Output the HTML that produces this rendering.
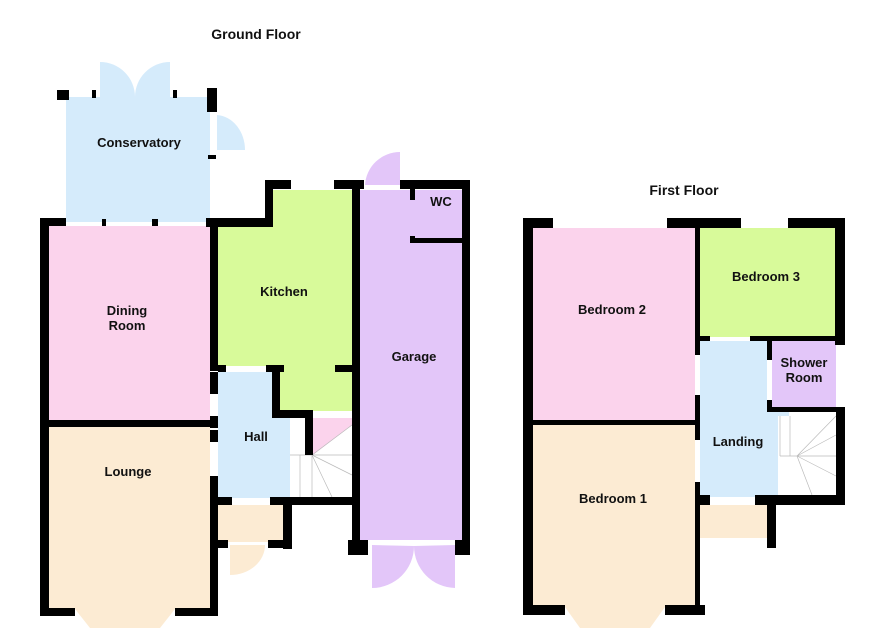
<!DOCTYPE html>
<html><head><meta charset="utf-8"><style>
body{margin:0;background:#fff}
svg{display:block}
text{font-family:"Liberation Sans",sans-serif;font-weight:bold;fill:#111}
</style></head><body>
<svg width="886" height="644" viewBox="0 0 886 644">
<g stroke="none">
<rect x="66" y="97" width="144" height="125" fill="#d5ebfb"/>
<path d="M100 97 L100 62 A35 35 0 0 1 135 97Z" fill="#d5ebfb"/>
<path d="M170 97 L170 62 A35 35 0 0 0 135 97Z" fill="#d5ebfb"/>
<path d="M217 115 A30 35 0 0 1 245 150 L217 150Z" fill="#d5ebfb"/>
<rect x="48" y="226" width="162" height="195" fill="#fbd3ec"/>
<rect x="48" y="427" width="162" height="182" fill="#fcebd3"/>
<path d="M75 609 L90 628 L160 628 L175 609Z" fill="#fcebd3"/>
<rect x="273" y="190" width="79" height="40" fill="#d8fa9a"/>
<rect x="218" y="226" width="134" height="140" fill="#d8fa9a"/>
<rect x="280" y="366" width="72" height="45" fill="#d8fa9a"/>
<rect x="360" y="190" width="102" height="350" fill="#e3c6f9"/>
<path d="M365 185 A35 35 0 0 1 400 152 L400 185Z" fill="#e3c6f9"/>
<path d="M372 545 L372 588 A42 42 0 0 0 414 546Z" fill="#e3c6f9"/>
<path d="M455 545 L455 588 A42 42 0 0 1 414 546Z" fill="#e3c6f9"/>
<rect x="218" y="372" width="54" height="126" fill="#d5ebfb"/>
<rect x="218" y="418" width="92" height="80" fill="#d5ebfb"/>
<rect x="290" y="418" width="62" height="80" fill="#fff"/>
<path d="M313 418 L352 418 L352 425 L313 455Z" fill="#fbd3ec"/>
<rect x="218" y="505" width="65" height="37" fill="#fcebd3"/>
<path d="M230 545 L265 545 A35 30 0 0 1 230 575Z" fill="#fcebd3"/>
</g>
<g stroke="#bbb" stroke-width="0.7" fill="none">
<path d="M312 455 L352 425 M312 455 L352 455 M312 455 L352 475 M312 455 L332 497 M290 455 L312 455 M300 455 L300 497 M312 455 L312 497"/>
</g>
<g fill="#000">
<rect x="40" y="218" width="9" height="397"/>
<rect x="40" y="218" width="26" height="8"/>
<rect x="57" y="90" width="12" height="10"/>
<rect x="92" y="90" width="4" height="8"/>
<rect x="173" y="90" width="4" height="8"/>
<rect x="207" y="88" width="10" height="24"/>
<rect x="208" y="155" width="8" height="4"/>
<rect x="102" y="219" width="4" height="7"/>
<rect x="152" y="219" width="6" height="7"/>
<rect x="206" y="218" width="67" height="9"/>
<rect x="265" y="180" width="8" height="46"/>
<rect x="265" y="180" width="26" height="9"/>
<rect x="334" y="180" width="30" height="9"/>
<rect x="400" y="180" width="70" height="9"/>
<rect x="352" y="180" width="8" height="375"/>
<rect x="462" y="180" width="8" height="375"/>
<rect x="410" y="180" width="5" height="20"/>
<rect x="410" y="238" width="52" height="5"/>
<rect x="410" y="236" width="5" height="7"/>
<rect x="210" y="226" width="8" height="145"/>
<rect x="210" y="372" width="8" height="22"/>
<rect x="210" y="416" width="8" height="12"/>
<rect x="48" y="420" width="162" height="7"/>
<rect x="210" y="430" width="8" height="12"/>
<rect x="210" y="476" width="8" height="140"/>
<rect x="218" y="365" width="8" height="7"/>
<rect x="266" y="365" width="18" height="7"/>
<rect x="272" y="365" width="8" height="53"/>
<rect x="272" y="410" width="40" height="8"/>
<rect x="335" y="365" width="17" height="7"/>
<rect x="305" y="410" width="8" height="45"/>
<rect x="218" y="497" width="14" height="8"/>
<rect x="270" y="497" width="82" height="8"/>
<rect x="283" y="497" width="9" height="52"/>
<rect x="210" y="540" width="18" height="8"/>
<rect x="268" y="540" width="24" height="8"/>
<rect x="348" y="540" width="20" height="15"/>
<rect x="455" y="540" width="15" height="15"/>
<rect x="40" y="608" width="35" height="8"/>
<rect x="175" y="608" width="43" height="8"/>
</g>
<g stroke="none">
<rect x="533" y="228" width="162" height="193" fill="#fbd3ec"/>
<rect x="533" y="425" width="162" height="182" fill="#fcebd3"/>
<path d="M565 607 L580 628 L650 628 L665 607Z" fill="#fcebd3"/>
<rect x="700" y="228" width="136" height="109" fill="#d8fa9a"/>
<rect x="772" y="341" width="64" height="71" fill="#e3c6f9"/>
<rect x="700" y="341" width="67" height="156" fill="#d5ebfb"/>
<rect x="767" y="412" width="22" height="85" fill="#d5ebfb"/>
<rect x="778" y="416" width="58" height="80" fill="#fff"/>
<rect x="700" y="505" width="67" height="33" fill="#fcebd3"/>
</g>
<g stroke="#bbb" stroke-width="0.7" fill="none">
<path d="M797 456 L836 416 M797 456 L836 435 M797 456 L836 456 M797 456 L836 476 M797 456 L812 495 M780 456 L797 456 M780 416 L780 456 M790 416 L790 456"/>
</g>
<g fill="#000">
<rect x="523" y="218" width="10" height="397"/>
<rect x="523" y="218" width="30" height="10"/>
<rect x="667" y="218" width="74" height="10"/>
<rect x="788" y="218" width="57" height="10"/>
<rect x="835" y="218" width="10" height="127"/>
<rect x="836" y="407" width="9" height="98"/>
<rect x="695" y="228" width="5" height="127"/>
<rect x="695" y="395" width="5" height="45"/>
<rect x="533" y="420" width="162" height="5"/>
<rect x="695" y="482" width="5" height="133"/>
<rect x="700" y="336" width="10" height="5"/>
<rect x="750" y="336" width="86" height="5"/>
<rect x="767" y="336" width="5" height="24"/>
<rect x="767" y="400" width="5" height="12"/>
<rect x="767" y="407" width="69" height="5"/>
<rect x="700" y="495" width="10" height="10"/>
<rect x="755" y="495" width="90" height="10"/>
<rect x="767" y="495" width="9" height="53"/>
<rect x="523" y="605" width="42" height="10"/>
<rect x="665" y="605" width="40" height="10"/>
</g>
<text x="256" y="39" font-size="14" text-anchor="middle">Ground Floor</text>
<text x="684" y="195" font-size="14" text-anchor="middle">First Floor</text>
<g font-size="13" text-anchor="middle">
<text x="139" y="147">Conservatory</text>
<text x="127" y="315">Dining</text>
<text x="127" y="330">Room</text>
<text x="284" y="296">Kitchen</text>
<text x="441" y="206">WC</text>
<text x="414" y="361">Garage</text>
<text x="256" y="441">Hall</text>
<text x="128" y="476">Lounge</text>
<text x="612" y="314">Bedroom 2</text>
<text x="766" y="281">Bedroom 3</text>
<text x="804" y="367">Shower</text>
<text x="804" y="382">Room</text>
<text x="738" y="446">Landing</text>
<text x="613" y="503">Bedroom 1</text>
</g>
</svg>
</body></html>
